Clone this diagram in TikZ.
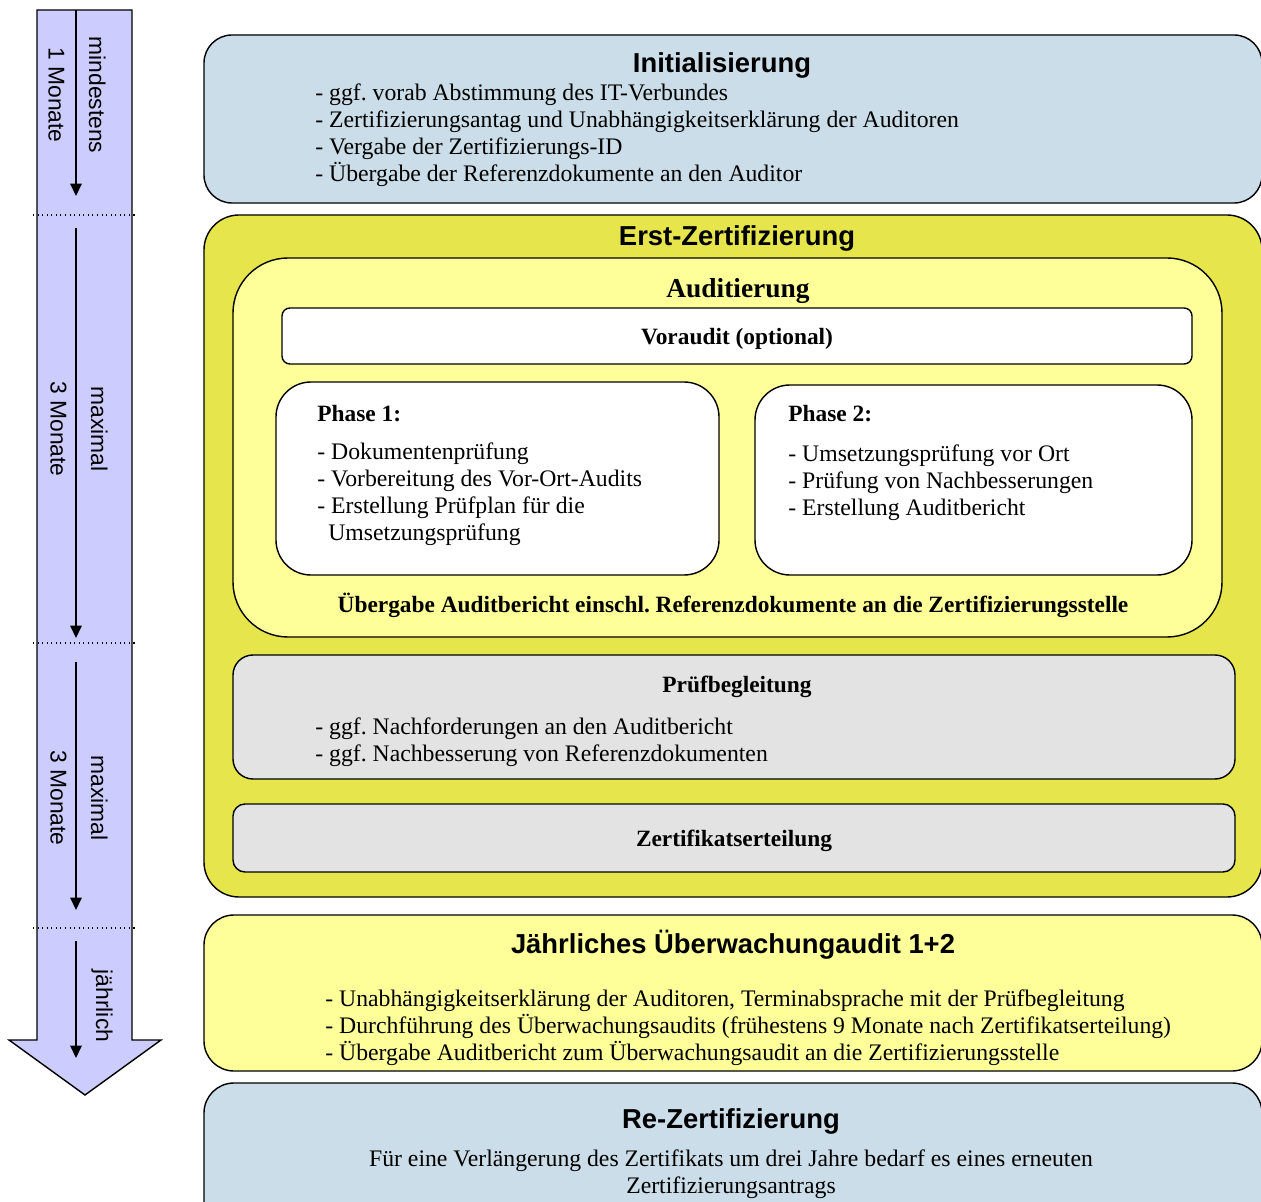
\documentclass[tikz,border=0pt]{standalone}
\usepackage{fontspec}
\setmainfont{Liberation Serif}
\setsansfont{Liberation Sans}
\usetikzlibrary{arrows.meta,positioning,fit}
\definecolor{InitBlue}{HTML}{CBDDE8}
\definecolor{ErstYellow}{HTML}{E6E64C}
\definecolor{AuditYellow}{HTML}{FFFF99}
\definecolor{BoxGrey}{HTML}{E3E3E3}
\definecolor{TimeLilac}{HTML}{CCCCFF}
\frenchspacing

\begin{document}
\begin{tikzpicture}[x=0.02cm,y=-0.02cm,
  box/.style={draw,line width=0.8pt,inner sep=0pt},
  headsans/.style={font=\sffamily\bfseries\fontsize{15.6}{18}\selectfont,yshift=-0.05cm},
  headserif/.style={font=\bfseries\fontsize{15.6}{18}\selectfont,yshift=-0.05cm},
  subhead/.style={font=\bfseries\fontsize{13.3}{15.4}\selectfont,yshift=-0.05cm},
  items/.style={font=\fontsize{13.5}{15.37}\selectfont,align=left,anchor=west,inner sep=0pt,yshift=-0.05cm},
  timelabel/.style={font=\sffamily\fontsize{13}{23}\selectfont,align=center,rotate=-90},
  tarrow/.style={line width=0.8pt,-{Triangle[length=7pt,width=6.5pt]}},
]
\useasboundingbox (0,0) rectangle (1261,1202);

% time line on the left
\draw[fill=TimeLilac,line width=0.8pt] (37,10) -- (132,10) -- (132,1040) -- (161,1040)
  -- (85,1095) -- (9,1040) -- (37,1040) -- cycle;
\draw[dotted,line width=0.6pt] (33,215) -- (137,215);
\draw[dotted,line width=0.6pt] (33,643) -- (137,643);
\draw[dotted,line width=0.6pt] (33,928) -- (137,928);
\coordinate (s1) at (76,10);  \coordinate (e1) at (76,196);
\coordinate (s2) at (76,228); \coordinate (e2) at (76,638);
\coordinate (s3) at (76,662); \coordinate (e3) at (76,910);
\coordinate (s4) at (76,941); \coordinate (e4) at (76,1058);
\draw[tarrow] (s1) -- (e1);
\draw[tarrow] (s2) -- (e2);
\draw[tarrow] (s3) -- (e3);
\draw[tarrow] (s4) -- (e4);
\node[timelabel] (t1) at (77,95) {mindestens\\1 Monate};
\node[timelabel] (t2) at (79,429) {maximal\\3 Monate};
\node[timelabel] (t3) at (79,798) {maximal\\3 Monate};
\node[timelabel] (t4) at (102,1006) {jährlich};

% Initialisierung
\node[box,fill=InitBlue,rounded corners=0.56cm,fit={(204,35) (1262,203)}] (init) {};
\node[headsans] (initT) at (722,63) {Initialisierung};
\node[items] (initL) at (315,133) {- ggf. vorab Abstimmung des IT-Verbundes\\
  - Zertifizierungsantag und Unabhängigkeitserklärung der Auditoren\\
  - Vergabe der Zertifizierungs-ID\\
  - Übergabe der Referenzdokumente an den Auditor};

% Erst-Zertifizierung
\node[box,fill=ErstYellow,rounded corners=0.7cm,fit={(204,215) (1262,897)}] (erst) {};
\node[headsans] (erstT) at (737,236) {Erst-Zertifizierung};
\node[box,fill=AuditYellow,rounded corners=1.1cm,fit={(233,258) (1222,637)}] (audit) {};
\node[headserif] (auditT) at (738,289) {Auditierung};
\node[box,fill=white,rounded corners=0.16cm,fit={(282,308) (1192,364)}] (vor) {};
\node[subhead] (vorT) at (vor.center) {Voraudit (optional)};
\node[box,fill=white,rounded corners=0.7cm,fit={(276,382) (719,575)}] (ph1) {};
\node[subhead,anchor=west,inner sep=0pt] (ph1T) at (317,411) {Phase 1:};
\node[items] (ph1L) at (317,492) {- Dokumentenprüfung\\
  - Vorbereitung des Vor-Ort-Audits\\
  - Erstellung Prüfplan für die\\
  \hspace*{0.22cm}Umsetzungsprüfung};
\node[box,fill=white,rounded corners=0.7cm,fit={(755,385) (1192,575)}] (ph2) {};
\node[subhead,anchor=west,inner sep=0pt] (ph2T) at (788,411) {Phase 2:};
\node[items] (ph2L) at (788,480) {- Umsetzungsprüfung vor Ort\\
  - Prüfung von Nachbesserungen\\
  - Erstellung Auditbericht};
\node[subhead] (uebT) at (733,603) {Übergabe Auditbericht einschl. Referenzdokumente an die Zertifizierungsstelle};
\node[box,fill=BoxGrey,rounded corners=0.4cm,fit={(233,655) (1235,779)}] (pruef) {};
\node[subhead] (pruefT) at (737,684) {Prüfbegleitung};
\node[items] (pruefL) at (315,739.5) {- ggf. Nachforderungen an den Auditbericht\\
  - ggf. Nachbesserung von Referenzdokumenten};
\node[box,fill=BoxGrey,rounded corners=0.24cm,fit={(233,804) (1235,872)}] (zert) {};
\node[subhead] (zertT) at (zert.center) {Zertifikatserteilung};

% Ueberwachung
\node[box,fill=AuditYellow,rounded corners=0.6cm,fit={(204,915) (1262,1071)}] (jahr) {};
\node[headsans] (jahrT) at (733,942) {Jährliches Überwachungaudit 1+2};
\node[items] (jahrL) at (325,1025) {- Unabhängigkeitserklärung der Auditoren, Terminabsprache mit der Prüfbegleitung\\
  - Durchführung des Überwachungsaudits (frühestens 9 Monate nach Zertifikatserteilung)\\
  - Übergabe Auditbericht zum Überwachungsaudit an die Zertifizierungsstelle};

% Re-Zertifizierung
\node[box,fill=InitBlue,rounded corners=0.6cm,fit={(204,1083) (1262,1240)}] (rez) {};
\node[headsans] (rezT) at (731,1119) {Re-Zertifizierung};
\node[items,align=center,anchor=center] (rezL) at (731,1171.5) {Für eine Verlängerung des Zertifikats um drei Jahre bedarf es eines erneuten\\
  Zertifizierungsantrags};
\end{tikzpicture}
\end{document}
